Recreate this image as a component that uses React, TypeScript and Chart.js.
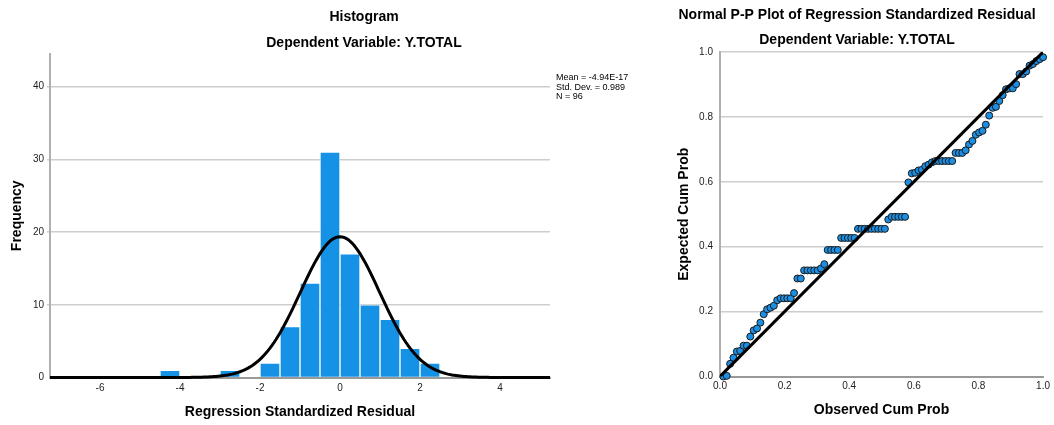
import React, { useEffect, useRef } from "react";
import { Chart, registerables } from "chart.js";

Chart.register(...registerables);
Chart.defaults.font.family = "'Liberation Sans', Arial, sans-serif";

// ---------- Histogram data ----------
const HIST_BIN_CENTERS = [-4.25, -2.75, -1.75, -1.25, -0.75, -0.25, 0.25, 0.75, 1.25, 1.75, 2.25];
const HIST_COUNTS = [1, 1, 2, 7, 13, 31, 17, 10, 8, 4, 2];
const HIST_X_TICKS = [-6, -4, -2, 0, 2, 4];
const HIST_Y_TICKS = [0, 10, 20, 30, 40];
const HIST_X_MIN = -7.25;
const HIST_X_MAX = 5.25;
const HIST_Y_MAX = 44.5;
const MEAN = -4.94e-17;
const STD_DEV = 0.989;
const N = 96;
const BIN_WIDTH = 0.5;
const STATS_LINES = ["Mean = -4.94E-17", "Std. Dev. = 0.989", "N = 96"];

// ---------- Normal P-P plot data ----------
const PP_OBSERVED = [
  0.0104, 0.0208, 0.0313, 0.0417, 0.0521, 0.0625, 0.0729, 0.0833, 0.0938, 0.1042,
  0.1146, 0.125, 0.1354, 0.1458, 0.1563, 0.1667, 0.1771, 0.1875, 0.1979, 0.2083,
  0.2188, 0.2292, 0.2396, 0.25, 0.2604, 0.2708, 0.2813, 0.2917, 0.3021, 0.3125,
  0.3229, 0.3333, 0.3438, 0.3542, 0.3646, 0.375, 0.3854, 0.3958, 0.4063, 0.4167,
  0.4271, 0.4375, 0.4479, 0.4583, 0.4688, 0.4792, 0.4896, 0.5, 0.5104, 0.5208,
  0.5313, 0.5417, 0.5521, 0.5625, 0.5729, 0.5833, 0.5938, 0.6042, 0.6146, 0.625,
  0.6354, 0.6458, 0.6563, 0.6667, 0.6771, 0.6875, 0.6979, 0.7083, 0.7188, 0.7292,
  0.7396, 0.75, 0.7604, 0.7708, 0.7813, 0.7917, 0.8021, 0.8125, 0.8229, 0.8333,
  0.8438, 0.8542, 0.8646, 0.875, 0.8854, 0.8958, 0.9063, 0.9167, 0.9271, 0.9375,
  0.9479, 0.9583, 0.9688, 0.9792, 0.9896, 1.0,
];
const PP_EXPECTED = [
  0.0, 0.002, 0.039, 0.058, 0.077, 0.079, 0.095, 0.095, 0.123, 0.142,
  0.148, 0.166, 0.192, 0.207, 0.212, 0.218, 0.235, 0.241, 0.241, 0.241,
  0.241, 0.257, 0.302, 0.302, 0.327, 0.327, 0.327, 0.327, 0.327, 0.333,
  0.346, 0.39, 0.39, 0.39, 0.39, 0.427, 0.427, 0.427, 0.427, 0.427,
  0.455, 0.455, 0.455, 0.455, 0.455, 0.455, 0.455, 0.455, 0.455, 0.484,
  0.492, 0.492, 0.492, 0.492, 0.492, 0.598, 0.626, 0.628, 0.635, 0.637,
  0.648, 0.653, 0.66, 0.664, 0.664, 0.664, 0.664, 0.664, 0.664, 0.689,
  0.689, 0.689, 0.697, 0.715, 0.726, 0.745, 0.752, 0.757, 0.776, 0.804,
  0.828, 0.831, 0.849, 0.867, 0.885, 0.888, 0.888, 0.901, 0.932, 0.932,
  0.94, 0.958, 0.963, 0.972, 0.978, 0.984,
];
const PP_DIAGONAL_X = [0, 1];
const PP_DIAGONAL_Y = [0, 1];
const PP_TICKS = [0, 0.2, 0.4, 0.6, 0.8, 1.0];

// ---------- styling ----------
const FONT = "'Liberation Sans', Arial, sans-serif";
const BAR_BLUE = "#1592e6";
const POINT_BLUE = "#1b8fe3";
const GRID_GRAY = "#cdcdcd";
const TICK_COLOR = "#222";

type TextItem = { text: string; x: number; y: number; font: string; align: CanvasTextAlign };

const textPlugin = (id: string, items: TextItem[]) => ({
  id,
  afterDraw(chart: any) {
    const ctx = chart.ctx as CanvasRenderingContext2D;
    ctx.save();
    ctx.fillStyle = "#000";
    ctx.textBaseline = "middle";
    items.forEach((it) => {
      ctx.font = it.font;
      ctx.textAlign = it.align;
      ctx.fillText(it.text, it.x, it.y);
    });
    ctx.restore();
  },
});

function normalCurve() {
  const pts: { x: number; y: number }[] = [];
  const k = (N * BIN_WIDTH) / (STD_DEV * Math.sqrt(2 * Math.PI));
  const steps = 250;
  for (let i = 0; i <= steps; i++) {
    const x = HIST_X_MIN + ((HIST_X_MAX - HIST_X_MIN) * i) / steps;
    const z = (x - MEAN) / STD_DEV;
    pts.push({ x, y: k * Math.exp(-0.5 * z * z) });
  }
  return pts;
}

const gridColor = (ctx: any) => (ctx.tick && ctx.tick.value === 0 ? "rgba(0,0,0,0)" : GRID_GRAY);

export default function App() {
  const histRef = useRef<HTMLCanvasElement>(null);
  const ppRef = useRef<HTMLCanvasElement>(null);

  useEffect(() => {
    const hist = new Chart(histRef.current as HTMLCanvasElement, {
      type: "bar",
      data: {
        datasets: [
          {
            type: "line",
            data: normalCurve(),
            borderColor: "#000",
            borderWidth: 3,
            pointRadius: 0,
            fill: false,
            order: 0,
            clip: { left: 0, top: 0, right: 0, bottom: 3 },
          } as any,
          {
            type: "bar",
            data: HIST_BIN_CENTERS.map((x, i) => ({ x, y: HIST_COUNTS[i] })),
            backgroundColor: BAR_BLUE,
            borderColor: "rgba(255,255,255,0.7)",
            borderWidth: 1,
            categoryPercentage: 1,
            barPercentage: 1,
            order: 1,
          } as any,
        ],
      },
      options: {
        animation: false,
        responsive: false,
        maintainAspectRatio: false,
        layout: { padding: { left: 0, right: 110, top: 54, bottom: 0 } },
        plugins: { legend: { display: false }, tooltip: { enabled: false }, title: { display: false } },
        scales: {
          x: {
            type: "linear",
            offset: false,
            min: HIST_X_MIN,
            max: HIST_X_MAX,
            afterBuildTicks: (s: any) => {
              s.ticks = HIST_X_TICKS.map((v) => ({ value: v }));
            },
            afterFit: (s: any) => {
              s.height = 47.5;
            },
            grid: { display: false, drawTicks: false, offset: false },
            border: { display: true, color: "#999", width: 2 },
            ticks: { color: TICK_COLOR, font: { size: 10, family: FONT }, padding: 5 },
            title: {
              display: true,
              text: "Regression Standardized Residual",
              color: "#000",
              font: { size: 14, weight: "bold", family: FONT },
              padding: { top: 0, bottom: 4 },
            },
          },
          y: {
            type: "linear",
            min: 0,
            max: HIST_Y_MAX,
            afterBuildTicks: (s: any) => {
              s.ticks = HIST_Y_TICKS.map((v) => ({ value: v }));
            },
            afterFit: (s: any) => {
              s.width = 50;
            },
            grid: { color: gridColor, lineWidth: 1.5, drawTicks: true, tickLength: 3 },
            border: { display: true, color: "#b0b0b0", width: 2 },
            ticks: { color: TICK_COLOR, font: { size: 10, family: FONT }, padding: 3 },
            title: {
              display: true,
              text: "Frequency",
              color: "#000",
              font: { size: 14, weight: "bold", family: FONT },
              padding: { top: 9, bottom: 0 },
            },
          },
        },
      } as any,
      plugins: [
        textPlugin("histTexts", [
          { text: "Histogram", x: 364, y: 17, font: `bold 14px ${FONT}`, align: "center" },
          { text: "Dependent Variable: Y.TOTAL", x: 364, y: 43, font: `bold 14px ${FONT}`, align: "center" },
          ...STATS_LINES.map((t, i) => ({
            text: t,
            x: 556,
            y: 78 + i * 9.5,
            font: `9px ${FONT}`,
            align: "left" as CanvasTextAlign,
          })),
        ]),
      ],
    });

    const pp = new Chart(ppRef.current as HTMLCanvasElement, {
      type: "scatter",
      data: {
        datasets: [
          {
            type: "line",
            data: PP_DIAGONAL_X.map((x, i) => ({ x, y: PP_DIAGONAL_Y[i] })),
            borderColor: "#000",
            borderWidth: 3,
            pointRadius: 0,
            fill: false,
            order: 0,
          } as any,
          {
            type: "scatter",
            data: PP_OBSERVED.map((x, i) => ({ x, y: PP_EXPECTED[i] })),
            backgroundColor: POINT_BLUE,
            borderColor: "#1a1a1a",
            borderWidth: 1,
            pointRadius: 3.5,
            order: 1,
            clip: 5,
          } as any,
        ],
      },
      options: {
        animation: false,
        responsive: false,
        maintainAspectRatio: false,
        layout: { padding: { left: 0, right: 9, top: 52, bottom: 0 } },
        plugins: { legend: { display: false }, tooltip: { enabled: false }, title: { display: false } },
        scales: {
          x: {
            type: "linear",
            min: 0,
            max: 1,
            afterBuildTicks: (s: any) => {
              s.ticks = PP_TICKS.map((v) => ({ value: v }));
            },
            afterFit: (s: any) => {
              s.height = 48.5;
            },
            grid: { display: false, drawTicks: false },
            border: { display: true, color: "#999", width: 2 },
            ticks: {
              color: TICK_COLOR,
              font: { size: 10, family: FONT },
              padding: 4,
              callback: (v: any) => Number(v).toFixed(1),
            },
            title: {
              display: true,
              text: "Observed Cum Prob",
              color: "#000",
              font: { size: 14, weight: "bold", family: FONT },
              padding: { top: 0, bottom: 6 },
            },
          },
          y: {
            type: "linear",
            min: 0,
            max: 1,
            afterBuildTicks: (s: any) => {
              s.ticks = PP_TICKS.map((v) => ({ value: v }));
            },
            afterFit: (s: any) => {
              s.width = 60;
            },
            grid: { color: gridColor, lineWidth: 1.5, drawTicks: false },
            border: { display: true, color: "#b0b0b0", width: 2 },
            ticks: {
              color: TICK_COLOR,
              font: { size: 10, family: FONT },
              padding: 7,
              callback: (v: any) => Number(v).toFixed(1),
            },
            title: {
              display: true,
              text: "Expected Cum Prob",
              color: "#000",
              font: { size: 14, weight: "bold", family: FONT },
              padding: { top: 16, bottom: 0 },
            },
          },
        },
      } as any,
      plugins: [
        textPlugin("ppTexts", [
          {
            text: "Normal P-P Plot of Regression Standardized Residual",
            x: 197,
            y: 15,
            font: `bold 14px ${FONT}`,
            align: "center",
          },
          { text: "Dependent Variable: Y.TOTAL", x: 197, y: 40, font: `bold 14px ${FONT}`, align: "center" },
        ]),
      ],
    });

    return () => {
      hist.destroy();
      pp.destroy();
    };
  }, []);

  return (
    <div style={{ position: "absolute", left: 0, top: 0, width: 1054, height: 425, background: "#fff" }}>
      <canvas
        ref={histRef}
        width={660}
        height={425}
        style={{ position: "absolute", left: 0, top: 0, width: 660, height: 425 }}
      />
      <canvas
        ref={ppRef}
        width={394}
        height={425}
        style={{ position: "absolute", left: 660, top: 0, width: 394, height: 425 }}
      />
    </div>
  );
}
